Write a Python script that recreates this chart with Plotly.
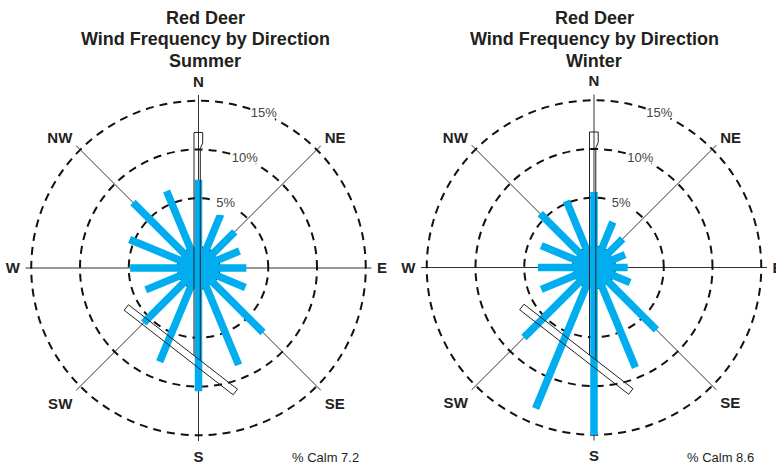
import math
import plotly.graph_objects as go

# ---------------- data ----------------
DIRECTIONS = [0, 22.5, 45, 67.5, 90, 112.5, 135, 157.5,
              180, 202.5, 225, 247.5, 270, 292.5, 315, 337.5]
SUMMER = [6.9, 3.8, 3.1, 2.4, 2.75, 3.05, 7.2, 8.6,
          10.5, 8.25, 5.8, 3.7, 4.85, 5.5, 7.35, 6.4]
WINTER = [5.6, 2.9, 2.0, 1.3, 1.3, 1.85, 6.9, 8.95,
          15.05, 13.5, 8.0, 3.7, 3.6, 3.7, 5.65, 5.25]
CALM = {"Summer": 7.2, "Winter": 8.6}
SEASONS = ["Summer", "Winter"]

COMPASS_ANGLES = [0, 45, 90, 135, 180, 225, 270, 315]
COMPASS_LABELS = ["N", "NE", "E", "SE", "S", "SW", "W", "NW"]
RING_VALUES = [5, 10, 15]
RING_LABELS = ["5%", "10%", "15%"]
RING_LABEL_BEARING = 23

# ---------------- styling / geometry ----------------
BLUE = "#00AEEF"
PX_PER_PCT = 9.75          # pixel length of 1 % on the radial scale
HOLE_PCT = 21 / PX_PER_PCT  # calm ring radius expressed in % units
R_MAX = 15.59

# runway outlines (pixels relative to the rose centre, x right / y down)
RUNWAY_NS = [(-4.5, 87.6), (-4.5, -135.5), (4.2, -135.5), (4.2, -125.0),
             (1.8, -119.7), (1.8, 92.4)]
RUNWAY_DIAG = [(-70.06, 36.73), (38.94, 121.23), (34.66, 126.77),
               (-74.34, 42.27), (-70.06, 36.73)]


def to_polar(points):
    rs, ts = [], []
    for x, y in points:
        d = math.hypot(x, y) / PX_PER_PCT
        rs.append(d - HOLE_PCT)
        ts.append(math.degrees(math.atan2(x, -y)) % 360)
    return rs, ts


fig = go.Figure()
data_by_season = {"Summer": SUMMER, "Winter": WINTER}

for i, season in enumerate(SEASONS):
    sub = "polar" if i == 0 else "polar2"
    vals = data_by_season[season]

    # calm disc
    fig.add_trace(go.Barpolar(
        r=[HOLE_PCT], base=[-HOLE_PCT], theta=[0], width=[360],
        marker=dict(color=BLUE, line=dict(width=0)),
        subplot=sub, showlegend=False, hoverinfo="skip"))

    # direction bars
    rr, tt = [], []
    for d, v in zip(DIRECTIONS, vals):
        rr += [-HOLE_PCT, v, None]
        tt += [d, d, None]
    fig.add_trace(go.Scatterpolar(
        r=rr, theta=tt, mode="lines",
        line=dict(color=BLUE, width=7.5),
        subplot=sub, showlegend=False, hoverinfo="skip"))

    # runways
    for rw in (RUNWAY_NS, RUNWAY_DIAG):
        rs, ts = to_polar(rw)
        fig.add_trace(go.Scatterpolar(
            r=rs, theta=ts, mode="lines",
            line=dict(color="#222222", width=1),
            subplot=sub, showlegend=False, hoverinfo="skip"))

    # ring labels
    fig.add_trace(go.Scatterpolar(
        r=RING_VALUES, theta=[RING_LABEL_BEARING] * 3,
        mode="markers+text", text=RING_LABELS, textposition="middle center",
        marker=dict(symbol="square", size=22, color="white"),
        textfont=dict(family="Liberation Sans", size=13, color="#444444"),
        subplot=sub, showlegend=False, hoverinfo="skip"))

polar_common = dict(
    bgcolor="white",
    radialaxis=dict(range=[-HOLE_PCT, R_MAX], tickmode="array",
                    tickvals=[0] + RING_VALUES, showticklabels=False,
                    ticks="", showline=False, gridcolor="#111111",
                    gridwidth=2, griddash="8px,6px"),
    angularaxis=dict(rotation=90, direction="clockwise", tickmode="array",
                     tickvals=COMPASS_ANGLES, ticktext=COMPASS_LABELS,
                     showline=False, ticks="outside", ticklen=2,
                     tickcolor="rgba(0,0,0,0)", gridcolor="#333333",
                     gridwidth=1,
                     tickfont=dict(family="Liberation Sans", size=15,
                                   color="#222222", weight="bold")),
)

W, H = 776, 466
centers = [(198.5, 268), (594, 267.5)]
R_PX = 173
doms = []
for cx, cy in centers:
    doms.append(dict(x=[(cx - R_PX) / W, (cx + R_PX) / W],
                     y=[(H - cy - R_PX) / H, (H - cy + R_PX) / H]))

fig.update_layout(
    width=W, height=H, margin=dict(l=0, r=0, t=0, b=0),
    paper_bgcolor="white", plot_bgcolor="white",
    polar=dict(domain=doms[0], **polar_common),
    polar2=dict(domain=doms[1], **polar_common),
)

title_x = [205, 594]
calm_x = [325, 720]
for i, season in enumerate(SEASONS):
    for j, line in enumerate(["Red Deer", "Wind Frequency by Direction", season]):
        fig.add_annotation(
            x=title_x[i] / W, y=1 - (17.5 + 21.5 * j) / H, xref="paper", yref="paper",
            text=line, showarrow=False, xanchor="center", yanchor="middle",
            borderpad=0,
            font=dict(family="Liberation Sans", size=18, color="#231F20", weight="bold"))
    fig.add_annotation(
        x=calm_x[i] / W, y=1 - 457 / H, xref="paper", yref="paper",
        text=f"% Calm {CALM[season]}", showarrow=False, xanchor="center", yanchor="middle",
        font=dict(family="Liberation Sans", size=13, color="#231F20"))

fig.write_html(
    "out.html",
    config={"displayModeBar": False},
    post_script="document.body.style.margin='0';document.body.style.padding='0';"
                "document.body.style.overflow='hidden';",
)
